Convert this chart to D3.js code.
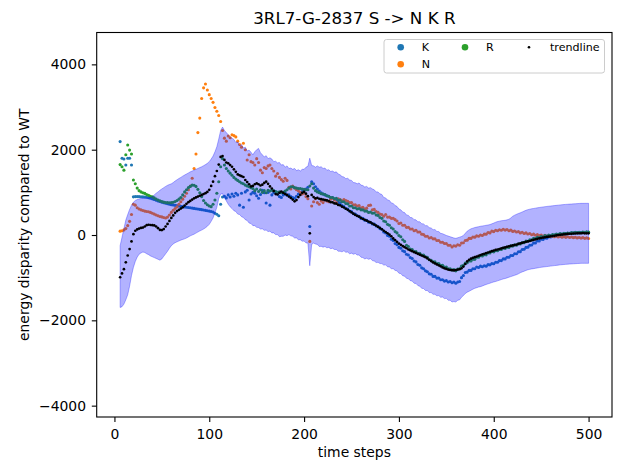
<!DOCTYPE html>
<html><head><meta charset="utf-8">
<script src="https://cdn.jsdelivr.net/npm/d3@7"></script>
<style>body{margin:0;background:#fff}svg{display:block}text{font-family:"DejaVu Sans",sans-serif;fill:#000}</style>
</head><body><svg id="c" width="618" height="464"></svg>
<script>
const title = "3RL7-G-2837 S -> N K R";
const xLabel = "time steps";
const yLabel = "energy disparity compared to WT";
const xTicks = [0, 100, 200, 300, 400, 500];
const yTicks = [-4000, -2000, 0, 2000, 4000];
const seriesNames = ["K", "N", "R", "trendline"];

// time steps 6..500 every 2
const steps = d3.range(6, 501, 2);

const kVals = [
2190,1800,1780,1640,1800,1800,1640,895,900,900,
900,898,895,890,885,875,862,848,832,815,
800,785,770,757,745,733,722,712,703,695,
688,680,672,665,658,651,645,638,631,624,
617,610,602,595,587,578,569,560,550,540,
510,485,450,720,890,910,870,940,890,960,
910,980,940,700,980,650,1010,1050,820,960,
1000,980,920,860,950,1050,990,750,1000,700,
940,990,1010,960,900,880,940,990,930,940,
900,880,860,910,960,1000,1020,1050,1080,1120,
200,1250,1200,1130,1080,1030,990,960,940,920,
910,870,880,840,830,770,750,690,670,620,
610,560,550,500,490,450,440,390,390,345,
345,300,300,260,255,210,200,150,135,70,
50,-10,-30,-100,-130,-200,-230,-290,-310,-370,
-390,-450,-470,-530,-550,-610,-630,-690,-710,-770,
-790,-840,-860,-910,-920,-970,-970,-1010,-1010,-1050,
-1050,-1080,-1070,-1100,-1090,-1120,-1100,-1130,-1100,-1090,
-1000,-950,-880,-870,-830,-830,-790,-790,-750,-760,
-730,-745,-720,-730,-695,-700,-670,-675,-640,-640,
-600,-600,-560,-560,-520,-520,-480,-480,-440,-440,
-395,-390,-340,-335,-290,-285,-240,-235,-190,-185,
-140,-140,-100,-105,-70,-75,-40,-45,-15,-15,
5,5,20,15,30,25,40,35,50,45,
55,52,60,58,65,60,66,63];

const nVals = [
90,100,120,150,220,320,480,720,700,640,
610,590,575,560,550,545,530,510,490,470,
450,435,425,410,400,420,470,530,580,620,
660,720,780,840,910,980,1060,1150,1330,1560,
1900,2400,2740,3200,3450,3540,3400,3290,3200,3110,
2990,2900,2800,2660,2450,2270,2200,2320,2280,2350,
2330,2300,2200,2120,2060,2150,2000,1760,1880,1720,
1700,1640,1790,1700,1520,1460,1580,1560,1620,1640,
1560,1500,1380,1440,1350,1300,1260,1330,1280,1120,
1080,1150,1100,1060,1040,1000,960,980,900,850,
-150,680,780,850,760,720,800,760,820,800,
780,840,860,820,760,850,830,800,830,810,
790,760,760,710,710,680,690,640,650,610,
630,690,700,590,600,550,530,490,480,440,
480,420,420,390,390,360,330,270,280,230,
230,180,180,140,140,100,110,70,70,20,
10,-30,-30,-70,-60,-90,-90,-130,-130,-170,
-170,-200,-200,-240,-240,-280,-250,-260,-230,-240,
-190,-180,-130,-120,-80,-80,-45,-50,-20,-30,
0,-10,20,20,60,50,90,80,110,100,
125,110,135,115,128,100,115,85,95,70,
80,50,65,35,50,25,35,5,20,-5,
10,-15,0,-25,-8,-30,-15,-35,-22,-40,
-28,-45,-32,-50,-38,-55,-42,-58,-48,-62,
-52,-68,-58,-72,-62,-78,-68,-82];

const rVals = [
1650,1600,1520,1880,2110,1990,1900,1290,1200,1100,
1040,1010,990,975,950,930,910,895,870,840,
820,800,785,770,762,758,756,758,768,785,
810,840,880,940,1010,1060,1110,1140,1170,1165,
1140,1070,990,900,810,750,710,680,665,720,
820,980,1250,1600,1790,1640,1560,1500,1450,1400,
1350,1310,1280,1250,1220,1200,1170,1150,1130,1110,
1090,1040,1080,1020,1060,1000,1040,990,1050,1030,
1050,1040,1020,1000,1010,990,1000,1030,1060,1100,
1130,1130,1110,1100,1090,1090,1080,1070,1060,1060,
1150,1200,1100,1040,1010,990,970,960,950,920,
910,880,880,850,860,820,820,780,780,740,
730,680,680,640,640,610,620,590,590,560,
560,530,540,510,515,470,460,410,390,330,
310,250,230,170,140,80,50,-10,-40,-110,
-150,-240,-270,-330,-340,-390,-390,-430,-430,-470,
-470,-510,-520,-580,-590,-630,-630,-670,-670,-710,
-710,-750,-750,-790,-790,-820,-810,-840,-800,-790,
-730,-710,-660,-650,-610,-610,-570,-570,-520,-520,
-480,-490,-460,-465,-420,-420,-385,-395,-365,-370,
-335,-340,-305,-315,-285,-290,-255,-260,-230,-240,
-205,-210,-175,-180,-140,-145,-110,-115,-80,-85,
-55,-65,-35,-45,-15,-25,0,-10,12,5,
22,15,32,25,38,32,45,40,55,50,
62,56,66,60,72,66,76,70];

const trendVals = [
-990,-900,-800,-640,-480,-330,-150,20,100,130,
150,165,175,200,230,240,235,230,225,200,
160,120,115,140,200,260,330,400,460,520,
560,590,620,650,690,730,770,800,830,860,
880,900,920,940,960,980,1010,1060,1150,1250,
1380,1500,1650,1830,1850,1760,1700,1680,1640,1600,
1540,1480,1420,1400,1380,1360,1290,1240,1190,1140,
1150,1190,1210,1190,1160,1180,1220,1250,1200,1140,
1090,1030,960,950,990,1020,990,960,940,900,
870,830,790,820,890,940,990,1010,970,910,
40,940,890,860,870,850,840,830,820,810,
795,770,765,740,735,705,695,665,645,615,
590,560,530,500,470,450,430,400,375,355,
335,315,295,270,245,220,190,165,135,100,
70,40,10,-30,-80,-120,-160,-200,-230,-260,
-285,-310,-340,-360,-380,-400,-420,-440,-460,-480,
-500,-520,-550,-580,-610,-640,-665,-690,-710,-735,
-760,-780,-795,-810,-820,-825,-830,-820,-810,-800,
-780,-740,-680,-620,-580,-555,-535,-520,-505,-490,
-470,-455,-440,-425,-410,-395,-380,-365,-350,-340,
-330,-315,-300,-290,-275,-265,-255,-245,-235,-225,
-210,-195,-185,-170,-160,-150,-140,-125,-115,-100,
-90,-80,-70,-60,-55,-45,-40,-30,-25,-20,
-10,0,5,10,15,20,25,30,30,35,
35,40,40,40,45,40,40,40];

const bandUpper = [
-250,-50,150,350,480,600,700,770,810,830,
845,855,860,865,870,875,885,900,940,980,
1010,1050,1080,1110,1140,1165,1185,1200,1230,1265,
1295,1325,1350,1380,1405,1430,1455,1480,1500,1520,
1540,1560,1580,1600,1625,1650,1680,1720,1780,1850,
1950,2070,2250,2450,2530,2450,2400,2350,2300,2270,
2240,2170,2180,2090,2120,2040,2060,1970,1990,1940,
1880,1950,2000,2030,1930,1880,1830,1860,1790,1810,
1780,1720,1730,1690,1700,1640,1650,1590,1620,1560,
1570,1540,1560,1510,1530,1500,1540,1540,1590,1610,
1800,1630,1620,1590,1620,1590,1600,1560,1570,1520,
1530,1490,1500,1470,1480,1430,1410,1370,1360,1320,
1330,1290,1280,1230,1225,1200,1220,1170,1160,1125,
1140,1100,1110,1080,1060,1010,1010,965,950,880,
870,820,810,750,740,690,670,610,590,540,
525,470,460,410,405,360,355,310,310,265,
260,220,220,170,165,125,127,85,80,40,
30,10,-10,-25,-40,-55,-70,-78,-65,-50,
-35,-10,40,90,120,145,160,175,185,195,
205,212,220,228,235,245,262,280,300,315,
325,335,340,345,355,370,400,440,465,485,
505,520,540,560,580,595,605,615,622,630,
638,645,652,658,664,670,675,680,685,690,
695,700,705,710,714,718,721,724,727,730,
733,736,740,742,742,743,743,743];

const bandLower = [
-1700,-1680,-1620,-1520,-1400,-1200,-950,-760,-620,-520,
-450,-420,-400,-410,-440,-460,-490,-510,-530,-550,
-570,-590,-560,-500,-440,-380,-310,-250,-210,-180,
-160,-140,-120,-105,-90,-70,-45,-20,0,20,
45,70,95,115,140,170,205,250,320,400,
520,650,850,960,970,870,800,720,660,620,
570,550,490,480,430,410,360,340,280,270,
220,220,180,175,140,145,110,115,80,90,
50,50,10,10,-40,-30,-30,0,-15,10,
-20,-30,-70,-70,-110,-110,-145,-140,-185,-190,
-720,-220,-190,-210,-220,-270,-265,-285,-270,-300,
-290,-320,-310,-340,-340,-380,-380,-395,-370,-405,
-400,-440,-425,-450,-435,-470,-470,-520,-530,-560,
-545,-570,-555,-600,-610,-645,-640,-670,-670,-705,
-700,-745,-750,-790,-790,-830,-840,-895,-905,-955,
-965,-1015,-1025,-1070,-1080,-1130,-1135,-1185,-1200,-1250,
-1255,-1300,-1300,-1350,-1350,-1390,-1390,-1425,-1420,-1460,
-1455,-1490,-1485,-1530,-1530,-1570,-1560,-1570,-1530,-1520,
-1460,-1420,-1370,-1340,-1320,-1295,-1270,-1250,-1235,-1220,
-1210,-1195,-1175,-1160,-1145,-1130,-1115,-1100,-1090,-1075,
-1060,-1045,-1030,-1020,-1005,-990,-975,-960,-945,-930,
-910,-885,-865,-850,-830,-815,-805,-795,-788,-780,
-772,-764,-757,-751,-745,-740,-735,-729,-723,-717,
-712,-706,-700,-696,-692,-688,-684,-681,-678,-675,
-672,-669,-666,-664,-664,-664,-664,-664];

const colors = {K: "#1f77b4", N: "#ff7f0e", R: "#2ca02c", trendline: "#000000"};

const svg = d3.select("#c");
const L = 96.7, R = 612, T = 32.5, B = 417;
const x = d3.scaleLinear().domain([-18.7, 524.7]).range([L, R]);
const y = d3.scaleLinear().domain([-4266, 4747]).range([B, T]);

function dots(vals, color, r) {
  svg.append("g").selectAll("circle")
    .data(vals.map((v, i) => [steps[i], v]))
    .join("circle")
    .attr("cx", d => x(d[0])).attr("cy", d => y(d[1]))
    .attr("r", r).attr("fill", color);
}
dots(kVals, colors.K, 1.55);
dots(nVals, colors.N, 1.55);
dots(rVals, colors.R, 1.55);

const area = d3.area()
  .x((d, i) => x(steps[i]))
  .y0((d, i) => y(bandLower[i]))
  .y1(d => y(d));
svg.append("path").attr("d", area(bandUpper))
  .attr("fill", "blue").attr("fill-opacity", 0.3)
  .attr("stroke", "blue").attr("stroke-opacity", 0.3).attr("stroke-width", 1);

dots(trendVals, colors.trendline, 1.35);

// axes
const xa = svg.append("g").attr("transform", `translate(0,${B})`)
  .call(d3.axisBottom(x).tickValues(xTicks).tickSize(4.9).tickPadding(7).tickFormat(d3.format("d")));
const ya = svg.append("g").attr("transform", `translate(${L},0)`)
  .call(d3.axisLeft(y).tickValues(yTicks).tickSize(4.9).tickPadding(5.8).tickFormat(d => d < 0 ? "\u2212" + Math.abs(d) : String(d)));
[xa, ya].forEach(a => {
  a.select(".domain").remove();
  a.selectAll("line").attr("stroke", "#000").attr("stroke-width", 1.1);
  a.selectAll("text").attr("font-size", 13.9).attr("font-family", "DejaVu Sans").attr("fill", "#000");
});

svg.append("rect").attr("x", L).attr("y", T).attr("width", R - L).attr("height", B - T)
  .attr("fill", "none").attr("stroke", "#000").attr("stroke-width", 1.1);

svg.append("text").attr("x", (L + R) / 2).attr("y", 24.3).attr("text-anchor", "middle")
  .attr("font-size", 16.7).text(title);
svg.append("text").attr("x", (L + R) / 2).attr("y", 457).attr("text-anchor", "middle")
  .attr("font-size", 13.9).text(xLabel);
svg.append("text").attr("transform", `translate(28.6,${(T + B) / 2}) rotate(-90)`)
  .attr("text-anchor", "middle").attr("font-size", 13.9).text(yLabel);

// legend
const lg = svg.append("g");
lg.append("rect").attr("x", 384).attr("y", 39.5).attr("width", 220.5).attr("height", 33.5).attr("rx", 2.5)
  .attr("fill", "#fff").attr("fill-opacity", 0.8).attr("stroke", "#cccccc").attr("stroke-width", 1);
const legendItems = [
  {name: seriesNames[0], mx: 400.7, my: 47.3, r: 3.3},
  {name: seriesNames[1], mx: 400.7, my: 64.3, r: 3.3},
  {name: seriesNames[2], mx: 465, my: 47.3, r: 3.3},
  {name: seriesNames[3], mx: 529, my: 47.3, r: 1.3}
];
legendItems.forEach(it => {
  lg.append("circle").attr("cx", it.mx).attr("cy", it.my).attr("r", it.r).attr("fill", colors[it.name]);
  lg.append("text").attr("x", it.mx + 21).attr("y", it.my + 4).attr("font-size", 11.1).text(it.name);
});
</script></body></html>
